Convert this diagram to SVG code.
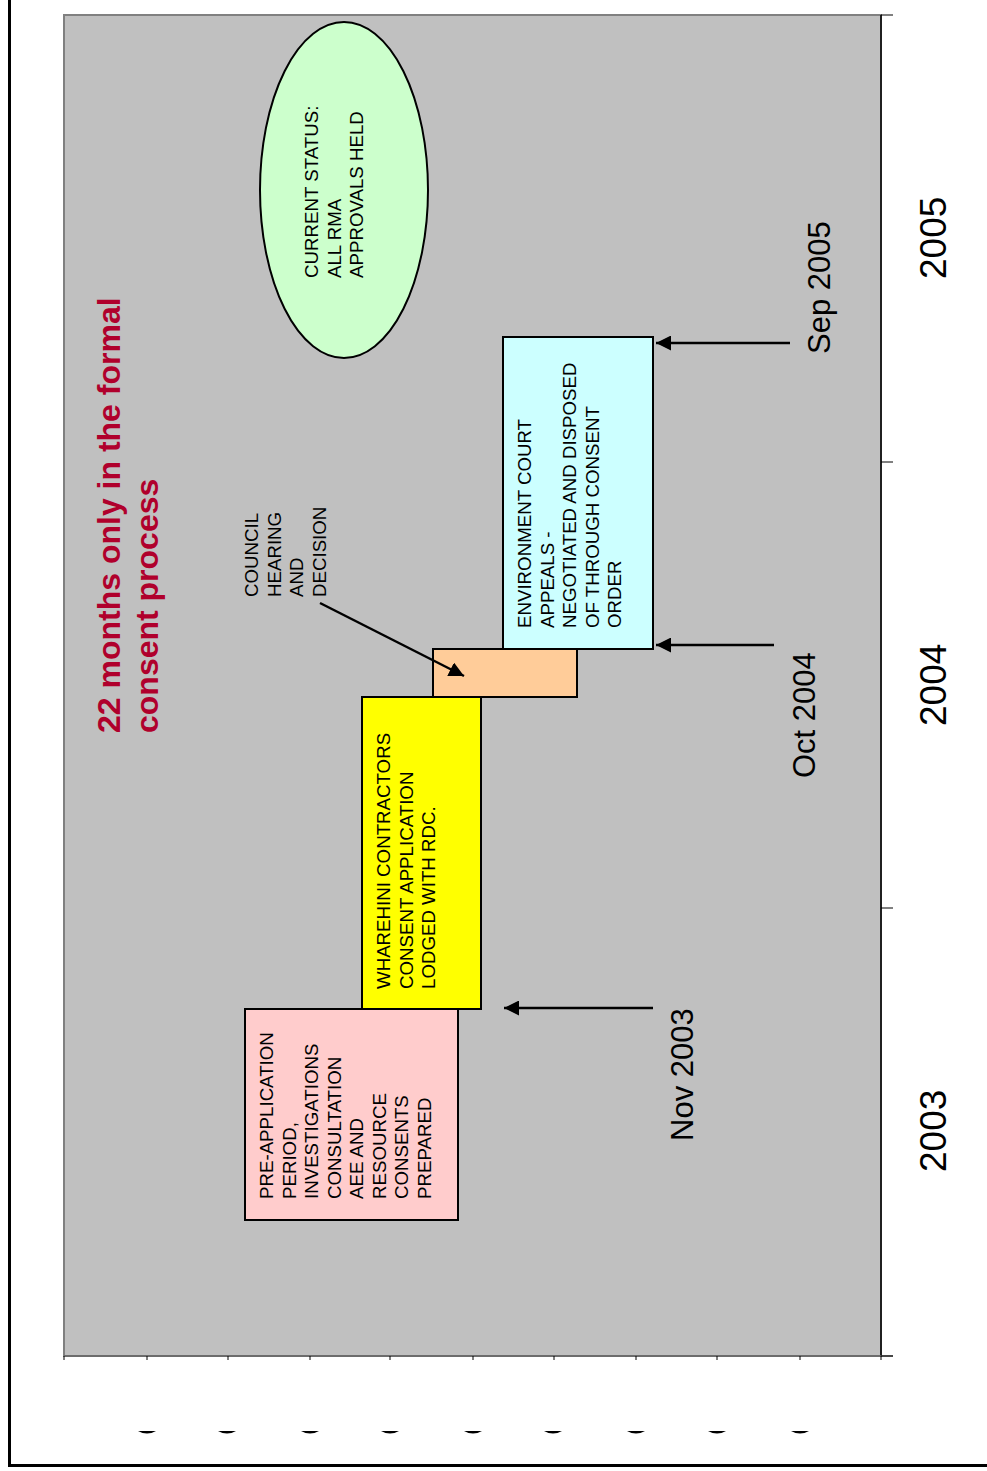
<svg xmlns="http://www.w3.org/2000/svg" width="987" height="1471" viewBox="0 0 987 1471">
<defs>
<style>
text{font-family:"Liberation Sans",Arial,sans-serif;fill:#000}
.box{stroke:#000;stroke-width:2}
.lbl{font-size:18.7px}
.date{font-size:31px}
.year{font-size:37px}
.title{font-size:32px;font-weight:bold;fill:#b0002c}
.conn{stroke:#000;stroke-width:2.5;fill:none}
.tick{stroke:#000;stroke-width:1}
</style>
<marker id="ah" viewBox="0 0 10 10" refX="10" refY="5" markerWidth="6" markerHeight="6" markerUnits="strokeWidth" orient="auto">
<path d="M0,0L10,5L0,10z" fill="#000"/>
</marker>
</defs>
<rect x="0" y="0" width="987" height="1471" fill="#fff"/>
<g id="frame">
<path d="M9.5,0V1465.5H987" fill="none" stroke="#000" stroke-width="3"/>
</g>
<g id="plot">
<rect x="64" y="15" width="817" height="1341" fill="#c0c0c0" stroke="#808080" stroke-width="2"/>
<line x1="881" y1="15" x2="881" y2="1356" stroke="#000" stroke-width="1.5"/>
<line x1="64" y1="1356" x2="893" y2="1356" stroke="#666" stroke-width="1.5"/>
<g class="tick">
<line x1="881" y1="15" x2="893" y2="15"/>
<line x1="881" y1="462" x2="893" y2="462"/>
<line x1="881" y1="908" x2="893" y2="908"/>
<line x1="881" y1="1356" x2="893" y2="1356"/>
<line x1="64" y1="1356" x2="64" y2="1360"/>
<line x1="147" y1="1356" x2="147" y2="1360"/>
<line x1="228" y1="1356" x2="228" y2="1360"/>
<line x1="310" y1="1356" x2="310" y2="1360"/>
<line x1="390" y1="1356" x2="390" y2="1360"/>
<line x1="473" y1="1356" x2="473" y2="1360"/>
<line x1="554" y1="1356" x2="554" y2="1360"/>
<line x1="636" y1="1356" x2="636" y2="1360"/>
<line x1="717" y1="1356" x2="717" y2="1360"/>
<line x1="800" y1="1356" x2="800" y2="1360"/>
<line x1="881" y1="1356" x2="881" y2="1360"/>
</g>
<g fill="#000">
<path d="M138,1431h18q-9,5 -18,0z"/>
<path d="M218,1431h18q-9,5 -18,0z"/>
<path d="M301,1431h18q-9,5 -18,0z"/>
<path d="M381,1431h18q-9,5 -18,0z"/>
<path d="M464,1431h18q-9,5 -18,0z"/>
<path d="M544,1431h18q-9,5 -18,0z"/>
<path d="M627,1431h18q-9,5 -18,0z"/>
<path d="M708,1431h18q-9,5 -18,0z"/>
<path d="M791,1431h18q-9,5 -18,0z"/>
</g>
<text class="year" transform="translate(946,279) rotate(-90)">2005</text>
<text class="year" transform="translate(946,726) rotate(-90)">2004</text>
<text class="year" transform="translate(946,1172) rotate(-90)">2003</text>
</g>
<g id="title">
<text class="title" transform="translate(120,733) rotate(-90)">22 months only in the formal</text>
<text class="title" transform="translate(158,733) rotate(-90)">consent process</text>
</g>
<g id="pre-application">
<rect class="box" x="245" y="1009" width="213" height="211" fill="#ffcccc"/>
<text class="lbl" transform="translate(273,1199) rotate(-90)">PRE-APPLICATION</text>
<text class="lbl" transform="translate(295.5,1199) rotate(-90)">PERIOD,</text>
<text class="lbl" transform="translate(318,1199) rotate(-90)">INVESTIGATIONS</text>
<text class="lbl" transform="translate(340.5,1199) rotate(-90)">CONSULTATION</text>
<text class="lbl" transform="translate(363,1199) rotate(-90)">AEE AND</text>
<text class="lbl" transform="translate(385.5,1199) rotate(-90)">RESOURCE</text>
<text class="lbl" transform="translate(408,1199) rotate(-90)">CONSENTS</text>
<text class="lbl" transform="translate(430.5,1199) rotate(-90)">PREPARED</text>
</g>
<g id="lodged">
<rect class="box" x="362" y="697" width="119" height="312" fill="#ffff00"/>
<text class="lbl" transform="translate(390,989) rotate(-90)">WHAREHINI CONTRACTORS</text>
<text class="lbl" transform="translate(412.5,989) rotate(-90)">CONSENT APPLICATION</text>
<text class="lbl" transform="translate(435,989) rotate(-90)">LODGED WITH RDC.</text>
</g>
<g id="council">
<rect class="box" x="433" y="649" width="144" height="48" fill="#ffcc99"/>
</g>
<g id="council-label">
<text class="lbl" transform="translate(258,597) rotate(-90)">COUNCIL</text>
<text class="lbl" transform="translate(280.5,597) rotate(-90)">HEARING</text>
<text class="lbl" transform="translate(303,597) rotate(-90)">AND</text>
<text class="lbl" transform="translate(325.5,597) rotate(-90)">DECISION</text>
</g>
<g id="environment-court">
<rect class="box" x="503" y="337" width="150" height="312" fill="#ccffff"/>
<text class="lbl" transform="translate(531,628) rotate(-90)">ENVIRONMENT COURT</text>
<text class="lbl" transform="translate(553.5,628) rotate(-90)">APPEALS -</text>
<text class="lbl" transform="translate(576,628) rotate(-90)">NEGOTIATED AND DISPOSED</text>
<text class="lbl" transform="translate(598.5,628) rotate(-90)">OF THROUGH CONSENT</text>
<text class="lbl" transform="translate(621,628) rotate(-90)">ORDER</text>
</g>
<g id="status">
<ellipse class="box" cx="344" cy="190" rx="84" ry="168" fill="#ccffcc"/>
<text class="lbl" transform="translate(318,278) rotate(-90)">CURRENT STATUS:</text>
<text class="lbl" transform="translate(340.5,278) rotate(-90)">ALL RMA</text>
<text class="lbl" transform="translate(363,278) rotate(-90)">APPROVALS HELD</text>
</g>
<g id="date-labels">
<text class="date" transform="translate(830,354) rotate(-90)">Sep 2005</text>
<text class="date" transform="translate(815,778) rotate(-90)">Oct 2004</text>
<text class="date" transform="translate(693,1141) rotate(-90)">Nov 2003</text>
</g>
<g id="connectors">
<line class="conn" x1="790" y1="343" x2="656" y2="343" marker-end="url(#ah)"/>
<line class="conn" x1="774" y1="645" x2="656" y2="645" marker-end="url(#ah)"/>
<line class="conn" x1="653" y1="1008" x2="504" y2="1008" marker-end="url(#ah)"/>
<line class="conn" x1="320" y1="603" x2="464" y2="676" marker-end="url(#ah)"/>
</g>
</svg>
